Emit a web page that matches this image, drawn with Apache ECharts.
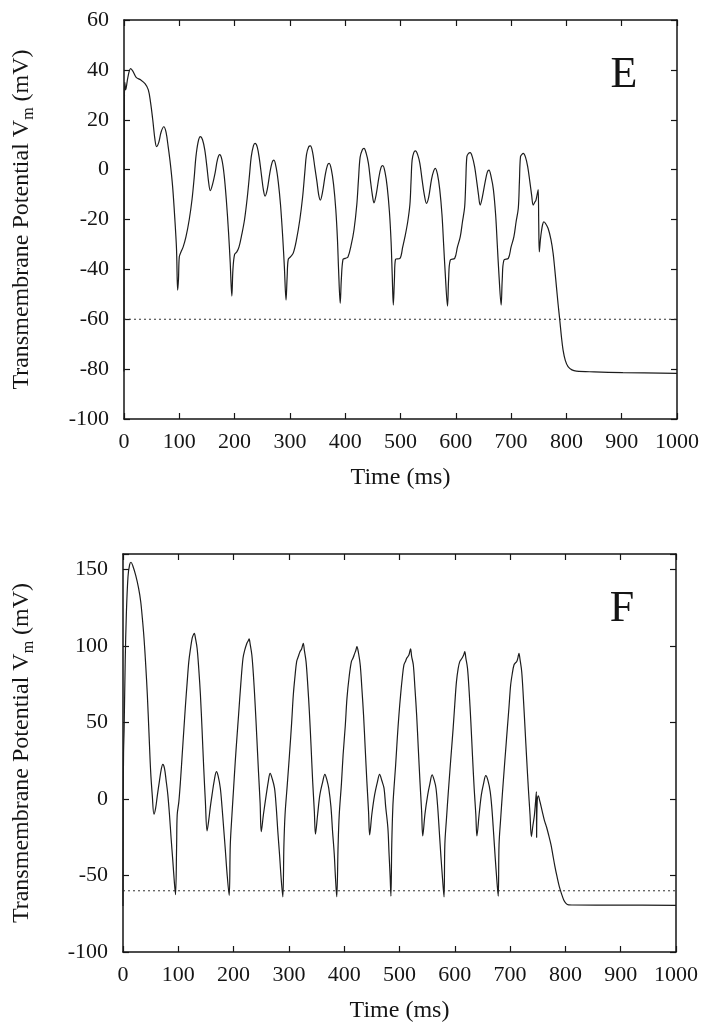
<!DOCTYPE html>
<html><head><meta charset="utf-8">
<script src="https://cdn.jsdelivr.net/npm/echarts@6/dist/echarts.min.js"></script>
<style>html,body{margin:0;padding:0;background:#fff}#c{width:712px;height:1036px}</style>
</head><body><div id="c"></div>
<script>
// ---- data (time ms, transmembrane potential mV) ----
const panelLabels = ['E', 'F'];
const timeRange = [0, 1000];
const timeInterval = 100;
const yRangeE = [-100, 60];
const yIntervalE = 20;
const yRangeF = [-100, 160];
const yIntervalF = 50;
const threshold = -60;

const panelE = [[0,-81],[0.3,-20],[0.8,30],[1.5,35],[3,32],[7,37],[12,40.5],[16,39.5],[22,37],[30,36],[38,34.5],[44,32],[48,27],[52,20],[56,12],[59,9.2],[63,11],[67,15],[72,17.2],[76,15],[80,9],[84,2],[88,-7],[92,-20],[95,-32],[97,-48.3],[98.5,-44],[100,-35],[103,-33],[107,-31],[112,-27],[118,-20],[123,-12],[127,-3],[130,5],[134,11],[138,13.2],[142,12],[146,8],[150,1],[153,-5],[156,-8.4],[160,-6],[165,-1],[169,4],[173,6],[177,4],[181,-2],[185,-12],[189,-25],[192,-37],[195,-50.7],[197,-40],[200,-34],[204,-33],[208,-31],[213,-26],[218,-20],[223,-11],[227,-2],[230,5],[234,9.5],[237,10.5],[241,9],[245,4],[249,-3],[252,-8],[255,-10.6],[259,-8],[264,-1],[268,3],[271,3.8],[275,1],[279,-5],[283,-14],[287,-27],[290,-39],[293,-52.3],[295,-43],[297,-36],[301,-35],[306,-33.5],[312,-28],[318,-20],[323,-11],[327,-1],[330,6],[334,9.2],[337,9.5],[341,7],[345,1],[349,-5],[352,-10],[355,-12.2],[359,-9],[364,-2],[368,1.8],[371,2.5],[375,0],[379,-6],[383,-16],[386,-28],[388,-40],[391,-53.6],[393,-44],[396,-36],[400,-35.6],[405,-35],[411,-30],[416,-24],[421,-14],[424,-4],[427,5],[431,8],[434,8.5],[438,6.5],[442,2.5],[446,-5],[449,-10],[452,-13.3],[456,-10],[461,-3],[465,1],[468,1.6],[472,-1],[476,-7],[480,-17],[483,-29],[485,-42],[487,-54.3],[489,-44],[491,-36],[499,-35.6],[504,-31],[508,-27],[513,-21],[517,-14],[519,-5],[521,3.8],[524,6.8],[527,7.5],[531,6],[535,2.5],[539,-4],[543,-10],[547,-13.5],[551,-11],[556,-4],[560,-0.5],[563,0.5],[567,-2],[571,-8],[575,-18],[578,-30],[581,-42],[585,-54.7],[587,-44],[590,-36.3],[598,-35.6],[603,-31],[608,-27],[612,-21],[616,-15],[618,-5],[620,5.2],[623,6.5],[626,6.8],[630,5],[634,1.2],[638,-5],[641,-10],[644,-14.2],[648,-11],[653,-5],[657,-1],[660,-0.2],[664,-3],[668,-8],[672,-18],[675,-30],[678,-42],[682,-54.3],[684,-44],[687,-36.3],[695,-35.6],[700,-31],[705,-27],[709,-21],[713,-15.5],[715,-5],[717,5.2],[720,6.2],[722,6.5],[726,5],[730,1.2],[734,-5],[737,-10],[740,-14.2],[743,-13],[745,-12.2],[748,-9],[749,-8],[750,-22],[751,-33],[753,-28],[755,-24.5],[757,-22],[759,-20.9],[762,-21.5],[767,-23.6],[772,-28],[776,-33.6],[779,-40],[782,-47],[785,-54],[788,-60.3],[791,-67],[794,-72.4],[798,-76.5],[803,-79],[810,-80.3],[818,-80.8],[850,-81.1],[902,-81.4],[1000,-81.7]];

const panelF = [[0,-70],[0.5,0],[1,30],[2,45],[4,90],[6,120],[9,145],[12,153],[14.5,154.6],[18,152],[23,146],[28,138],[32,129],[35,118],[38,105],[41,88],[44,68],[47,43],[50,18],[53,2],[56,-10],[59,-6],[62,2],[66,12],[69,19],[72,22.6],[75,20],[78,12],[81,3],[84,-10],[87,-25.7],[90,-40],[93,-55],[95,-62.5],[97,-30],[98,-10.5],[101,-1.8],[104,12],[107,28.7],[110,45],[113,61.4],[116,76],[119,89.7],[122,98],[125,104.9],[127,107],[129,108.2],[131,105],[134,98.4],[137,85],[140,68],[143,45],[146,20],[149,-2],[152,-20.9],[155,-14],[158,-5],[161,2.6],[165,12],[169,17.8],[172,15],[176,7],[179,-5],[182,-19],[185,-33],[188,-48],[192,-63],[194,-30],[197,-10.5],[200,7],[203,24.4],[206,40],[209,54.8],[213,75],[217,91.9],[220,97],[224,101.7],[226,103],[228,104.5],[230,101],[233,94],[236,80],[239,61.4],[242,40],[245,17.8],[248,-3],[250,-21.4],[254,-10],[259,2.6],[263,12],[266,16.7],[270,13],[274,7],[277,-5],[280,-21.4],[283,-36],[286,-52],[289,-64],[291,-30],[293,-10.5],[297,9],[301,28.7],[305,50],[308,68],[311,80],[314,89.7],[317,93],[320,96.2],[323,98],[326,101.7],[328,97],[331,89.7],[334,75],[337,57],[340,35],[343,11.3],[346,-8],[348,-23],[352,-10],[356,2.6],[361,11],[365,16.1],[369,12],[372,7],[376,-5],[379,-21.4],[382,-36],[384,-50],[386.5,-64],[389,-30],[391,-10.5],[395,10],[398,28.7],[402,48],[405,65.7],[409,80],[413,89.7],[416,92],[419,95.1],[421,97],[423,99.5],[426,95],[429,87.5],[432,72],[435,54.8],[438,33],[441,11.3],[444,-8],[446,-23.5],[450,-10],[455,2.6],[460,11],[464,16.1],[468,12],[472,7],[475,-5],[479,-19],[481,-35],[483,-50],[484.5,-63.5],[486,-30],[488,-5],[490,6.9],[493,22],[496,39.6],[499,55],[502,68],[505,79],[508,87.5],[511,90],[513,91.9],[517,94],[520,98],[522,93],[525,87.5],[528,72],[531,54.8],[534,33],[537,11.3],[540,-8],[542,-24.2],[546,-10],[551,2.6],[555,10],[559,15.7],[563,12],[566,7],[569,-5],[572,-21.4],[575,-38],[578,-53],[580.5,-64],[582,-30],[585,-12.6],[588,3],[591,17.8],[594,32],[597,46.1],[600,62],[603,76.6],[606,85],[609,89.7],[613,91.9],[616,94],[618,96.2],[620,92],[623,85.3],[626,70],[629,50.5],[632,28],[635,7],[638,-10],[640,-24.2],[644,-10],[648,2.6],[652,10],[656,15.2],[660,12],[664,4.8],[667,-6],[670,-21.4],[673,-38],[676,-53],[678.5,-63.5],[680,-30],[683,-12.6],[686,3],[689,17.8],[692,32],[695,46.1],[698,60],[701,74.4],[704,82],[707,87.5],[710,89],[712,89.7],[714,92],[716,95.1],[718,91],[721,83.1],[724,66],[727,46.1],[730,26],[733,7],[736,-10],[738.5,-24.6],[741,-18],[744,-10.5],[746,-2],[747.5,4.7],[748,-25],[748.5,-25.3],[749,-2],[751,2],[754,-1.8],[758,-8],[762,-14],[766,-18.5],[770,-24],[774,-30],[777,-36],[781,-44],[785,-51],[789,-57.3],[793,-62],[797,-66],[801,-68.2],[806,-69.2],[812,-69.3],[900,-69.4],[1000,-69.5]];

// ---- chart ----
const FONT = '"Liberation Serif", "Times New Roman", Tinos, serif';
const INK = '#151515';
const chart = echarts.init(document.getElementById('c'), null, {renderer: 'canvas'});

const grids = [
  {left: 124, top: 20, width: 553, height: 399},
  {left: 123, top: 554, width: 553, height: 398}
];

function xAxes(g) {
  const common = {
    type: 'value', gridIndex: g, min: timeRange[0], max: timeRange[1], interval: timeInterval,
    axisLine: {onZero: false, lineStyle: {color: INK, width: 1.5}},
    axisTick: {inside: true, length: 6, lineStyle: {color: INK, width: 1.2}},
    splitLine: {show: false}
  };
  return [
    Object.assign({}, common, {
      position: 'bottom',
      axisLabel: {color: INK, fontFamily: FONT, fontSize: 22, margin: 12, formatter: v => String(v)},
      name: 'Time (ms)', nameLocation: 'middle', nameGap: 47,
      nameTextStyle: {fontFamily: FONT, fontSize: 24, color: INK}
    }),
    Object.assign({}, common, {position: 'top', axisLabel: {show: false}})
  ];
}
function yAxes(g, range, interval) {
  const common = {
    type: 'value', gridIndex: g, min: range[0], max: range[1], interval: interval,
    axisLine: {onZero: false, lineStyle: {color: INK, width: 1.5}},
    axisTick: {inside: true, length: 6, lineStyle: {color: INK, width: 1.2}},
    splitLine: {show: false}
  };
  return [
    Object.assign({}, common, {
      position: 'left',
      axisLabel: {color: INK, fontFamily: FONT, fontSize: 22, margin: 15,
        formatter: v => (Math.round(v) % interval === 0 ? String(v) : '')}
    }),
    Object.assign({}, common, {position: 'right', axisLabel: {show: false}})
  ];
}

function trace(data, xi, yi) {
  return {type: 'line', xAxisIndex: xi, yAxisIndex: yi, data: data, symbol: 'none',
    smooth: 0.35, smoothMonotone: 'none',
    lineStyle: {color: '#1c1c1c', width: 1.2}, silent: true, animation: false, z: 3};
}
function thresh(xi, yi) {
  return {type: 'line', xAxisIndex: xi, yAxisIndex: yi,
    data: [[timeRange[0], threshold], [timeRange[1], threshold]], symbol: 'none',
    lineStyle: {color: '#333', width: 1, type: [2, 3]}, silent: true, animation: false, z: 2};
}

function yTitle(cx, cy) {
  return {
    type: 'text', x: cx, y: cy, rotation: Math.PI / 2,
    style: {
      text: '{a|Transmembrane Potential V}{s|m}{a| (mV)}',
      textAlign: 'center', textVerticalAlign: 'middle',
      fill: INK,
      rich: {
        a: {fontFamily: FONT, fontSize: 24, lineHeight: 30, fill: INK},
        s: {fontFamily: FONT, fontSize: 16, lineHeight: 14, verticalAlign: 'bottom', fill: INK}
      }
    }
  };
}
function panelTag(t, cx, cy) {
  return {type: 'text', x: cx, y: cy,
    style: {text: t, fontFamily: FONT, fontSize: 44, fill: INK, textAlign: 'center', textVerticalAlign: 'middle'}};
}

chart.setOption({
  backgroundColor: '#fff',
  animation: false,
  grid: grids,
  xAxis: [...xAxes(0), ...xAxes(1)],
  yAxis: [...yAxes(0, yRangeE, yIntervalE), ...yAxes(1, yRangeF, yIntervalF)],
  series: [thresh(0, 0), trace(panelE, 0, 0), thresh(2, 2), trace(panelF, 2, 2)],
  graphic: [
    yTitle(22, 219.5), yTitle(22, 753),
    panelTag(panelLabels[0], 624, 75), panelTag(panelLabels[1], 622, 609)
  ]
});
</script></body></html>
